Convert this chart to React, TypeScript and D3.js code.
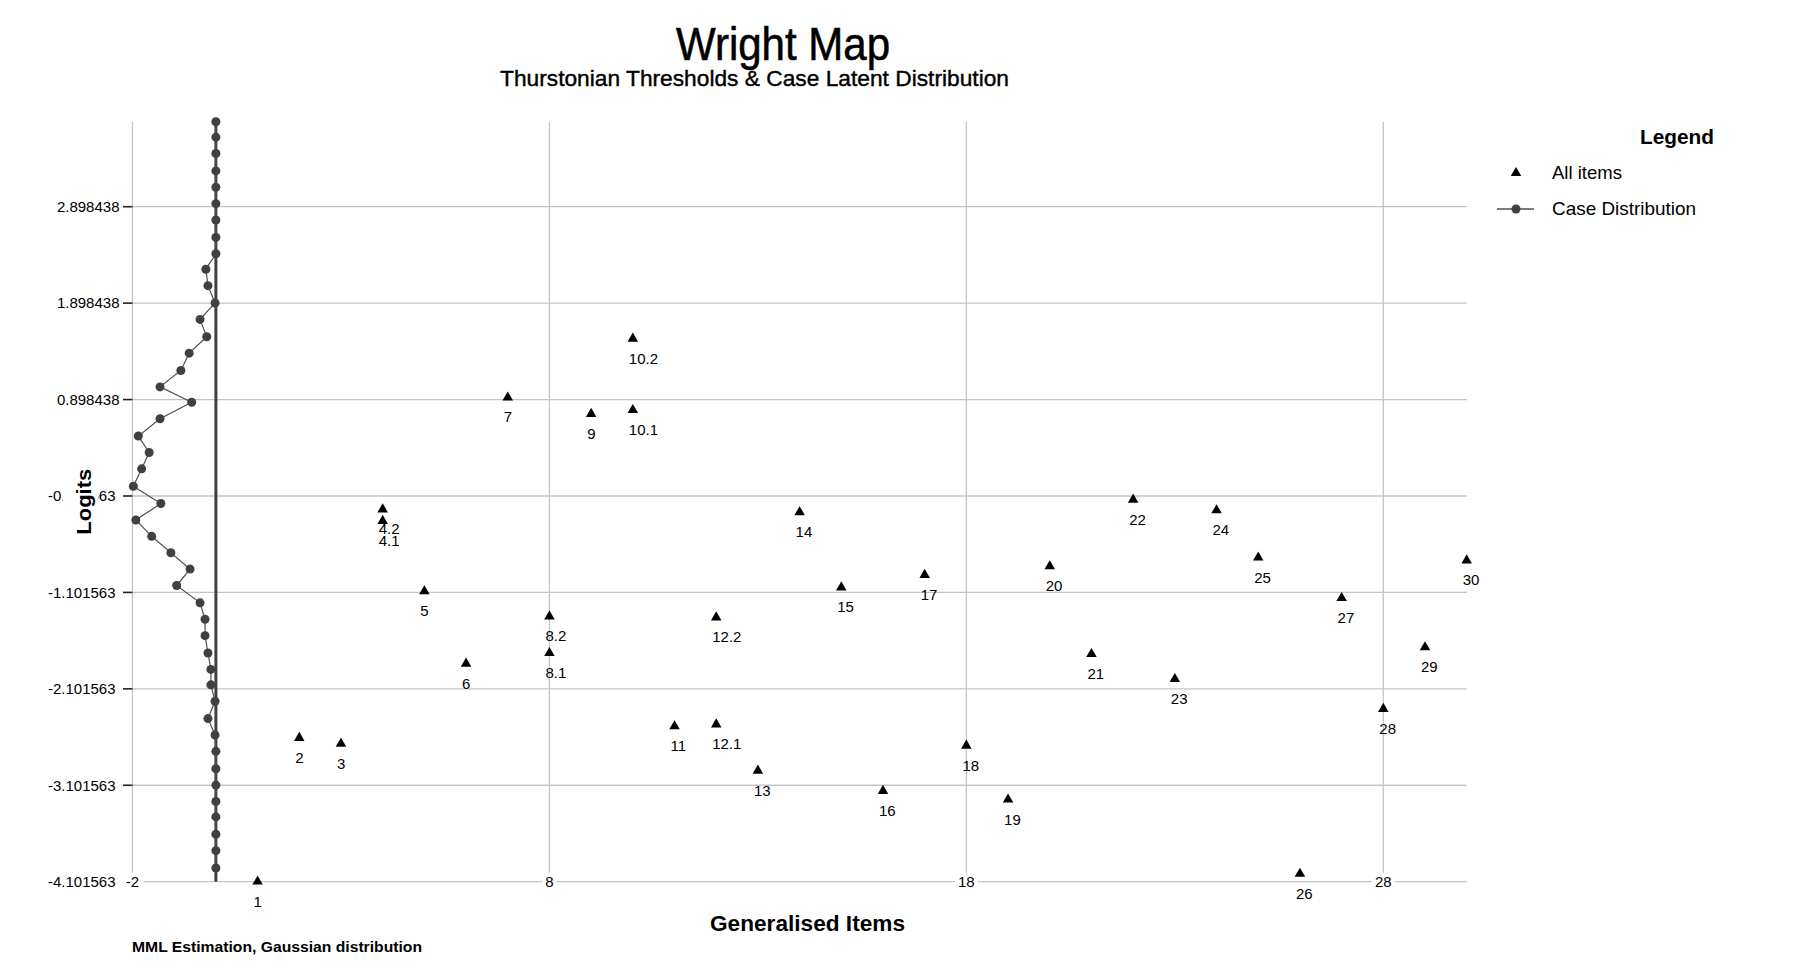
import * as React from 'react';
import { useRef, useEffect } from 'react';
import * as d3 from 'd3';

// thresholds (items): label, position on the generalised item axis, logit
const itemLabels = ['1', '2', '3', '4.1', '4.2', '5', '6', '7', '8.1', '8.2', '9', '10.1', '10.2', '11', '12.1', '12.2', '13', '14', '15', '16', '17', '18', '19', '20', '21', '22', '23', '24', '25', '26', '27', '28', '29', '30'];
const itemPositions = [1, 2, 3, 4, 4, 5, 6, 7, 8, 8, 9, 10, 10, 11, 12, 12, 13, 14, 15, 16, 17, 18, 19, 20, 21, 22, 23, 24, 25, 26, 27, 28, 29, 30];
const itemLogits = [-4.10, -2.61, -2.67, -0.36, -0.24, -1.09, -1.84, 0.92, -1.73, -1.35, 0.75, 0.79, 1.53, -2.49, -2.47, -1.36, -2.95, -0.27, -1.05, -3.16, -0.92, -2.69, -3.25, -0.83, -1.74, -0.14, -2.00, -0.25, -0.74, -4.02, -1.16, -2.31, -1.67, -0.77];

// case latent distribution: logit bins and (negative) scaled frequency
const caseLogits = [3.78, 3.62, 3.45, 3.27, 3.10, 2.93, 2.76, 2.58, 2.41, 2.25, 2.08, 1.90, 1.73, 1.55, 1.38, 1.20, 1.03, 0.87, 0.70, 0.52, 0.35, 0.18, 0.00, -0.18, -0.35, -0.52, -0.69, -0.86, -1.03, -1.21, -1.38, -1.55, -1.73, -1.90, -2.06, -2.23, -2.41, -2.58, -2.75, -2.93, -3.10, -3.27, -3.43, -3.61, -3.78, -3.96];
const caseDensity = [0, 0, 0, 0, 0, 0, 0, 0, 0, -0.24, -0.19, -0.02, -0.38, -0.22, -0.64, -0.84, -1.34, -0.58, -1.34, -1.86, -1.60, -1.78, -1.98, -1.32, -1.92, -1.54, -1.08, -0.62, -0.94, -0.38, -0.26, -0.26, -0.19, -0.12, -0.12, -0.02, -0.19, -0.02, 0, 0, 0, 0, 0, 0, 0, 0];

const yTickValues = [-4.101563, -3.101563, -2.101563, -1.101563, -0.101563, 0.898438, 1.898438, 2.898438];
const yTickLabels = ['-4.101563', '-3.101563', '-2.101563', '-1.101563', '-0.101563', '0.898438', '1.898438', '2.898438'];
const xTickValues = [-2, 8, 18, 28];

const legendLabels = ['All items', 'Case Distribution'];

const FONT = '"Liberation Sans", Arial, sans-serif';
const WIDTH = 1802;
const HEIGHT = 969;
const DOT = '#404040';

const WrightMap: React.FC = () => {
  const svgRef = useRef<SVGSVGElement>(null);

  useEffect(() => {
    if (!svgRef.current) return;
    const svg = d3.select(svgRef.current);
    svg.selectAll('*').remove();

    const left = 132.5, right = 1466.7, top = 121.7, bottom = 881.7;

    const x = d3.scaleLinear().domain([-2, 30]).range([left, right]);
    const y = d3.scaleLinear().domain([-4.101563, 3.78]).range([bottom, top]);

    svg.append('rect').attr('width', WIDTH).attr('height', HEIGHT).attr('fill', '#fff');

    // titles (the original renders them a bit heavy)
    svg.append('text')
      .attr('x', 783).attr('y', 60)
      .attr('text-anchor', 'middle')
      .attr('font-family', FONT).attr('font-size', 47)
      .attr('stroke', '#000').attr('stroke-width', 0.6)
      .attr('textLength', 214).attr('lengthAdjust', 'spacingAndGlyphs')
      .text('Wright Map');
    svg.append('text')
      .attr('x', 754.5).attr('y', 86)
      .attr('text-anchor', 'middle')
      .attr('font-family', FONT).attr('font-size', 22)
      .attr('stroke', '#000').attr('stroke-width', 0.4)
      .attr('textLength', 509).attr('lengthAdjust', 'spacingAndGlyphs')
      .text('Thurstonian Thresholds & Case Latent Distribution');

    const g = svg.append('g');

    // horizontal gridlines
    g.selectAll('.hgrid')
      .data(yTickValues)
      .enter()
      .append('line')
      .attr('x1', left).attr('x2', right)
      .attr('y1', d => y(d)).attr('y2', d => y(d))
      .attr('stroke', '#c4c4c4').attr('stroke-width', 1.3);

    // vertical gridlines (left edge included)
    g.selectAll('.vgrid')
      .data(xTickValues)
      .enter()
      .append('line')
      .attr('x1', d => x(d)).attr('x2', d => x(d))
      .attr('y1', top).attr('y2', bottom)
      .attr('stroke', '#c4c4c4').attr('stroke-width', 1.3);

    // y ticks + labels
    g.selectAll('.ytick')
      .data(yTickValues)
      .enter()
      .append('line')
      .attr('x1', left - 9.5).attr('x2', left)
      .attr('y1', d => y(d)).attr('y2', d => y(d))
      .attr('stroke', '#222').attr('stroke-width', 1.6);

    g.selectAll('.ylabel')
      .data(yTickValues)
      .enter()
      .append('text')
      .attr('x', (d, i) => (yTickLabels[i].startsWith('-') ? 115.5 : 119.5))
      .attr('y', d => y(d))
      .attr('dy', '0.35em')
      .attr('text-anchor', 'end')
      .attr('font-family', FONT).attr('font-size', 15)
      .attr('fill', '#000')
      .text((d, i) => yTickLabels[i]);

    // y axis title, with its white box hiding part of a tick label
    const midY = (top + bottom) / 2;
    g.append('rect')
      .attr('x', 63).attr('y', midY - 36)
      .attr('width', 35).attr('height', 72)
      .attr('fill', '#fff');
    g.append('text')
      .attr('transform', `translate(91,${midY}) rotate(-90)`)
      .attr('text-anchor', 'middle')
      .attr('font-family', FONT).attr('font-size', 21).attr('font-weight', 'bold')
      .attr('textLength', 66).attr('lengthAdjust', 'spacingAndGlyphs')
      .text('Logits');

    // x tick labels sitting on the bottom gridline
    const xl = g.selectAll('.xlabel')
      .data(xTickValues)
      .enter()
      .append('g')
      .attr('transform', d => `translate(${x(d)},${bottom})`);
    xl.append('rect')
      .attr('x', d => -(String(d).length * 4.2 + 3))
      .attr('y', -9)
      .attr('width', d => String(d).length * 8.4 + 6)
      .attr('height', 18)
      .attr('fill', '#fff');
    xl.append('text')
      .attr('text-anchor', 'middle')
      .attr('dy', '0.35em')
      .attr('font-family', FONT).attr('font-size', 15)
      .text(d => String(d));

    // case distribution
    g.append('line')
      .attr('x1', x(0)).attr('x2', x(0))
      .attr('y1', top).attr('y2', bottom)
      .attr('stroke', DOT).attr('stroke-width', 3);

    const line = d3.line<number>()
      .x((d, i) => x(caseDensity[i]))
      .y(d => y(d));
    g.append('path')
      .datum(caseLogits)
      .attr('d', line)
      .attr('fill', 'none')
      .attr('stroke', '#505050').attr('stroke-width', 1.2);

    g.selectAll('.case-dot')
      .data(caseLogits)
      .enter()
      .append('circle')
      .attr('cx', (d, i) => x(caseDensity[i]))
      .attr('cy', d => y(d))
      .attr('r', 4.5)
      .attr('fill', DOT);

    // item thresholds
    const tri = d3.symbol().type(d3.symbolTriangle).size(48);
    g.selectAll('.item')
      .data(itemLogits)
      .enter()
      .append('path')
      .attr('d', tri)
      .attr('transform', (d, i) => `translate(${x(itemPositions[i])},${y(d)})`)
      .attr('fill', '#000');

    g.selectAll('.item-label')
      .data(itemLogits)
      .enter()
      .append('text')
      .attr('x', (d, i) => x(itemPositions[i]) - 4)
      .attr('y', d => y(d) + 25)
      .attr('font-family', FONT).attr('font-size', 15)
      .attr('fill', '#000')
      .text((d, i) => itemLabels[i]);

    // axis title + footnote
    svg.append('text')
      .attr('x', 710).attr('y', 931)
      .attr('font-family', FONT).attr('font-size', 22).attr('font-weight', 'bold')
      .attr('textLength', 195).attr('lengthAdjust', 'spacingAndGlyphs')
      .text('Generalised Items');
    svg.append('text')
      .attr('x', 132).attr('y', 952)
      .attr('font-family', FONT).attr('font-size', 14).attr('font-weight', 'bold')
      .attr('textLength', 290).attr('lengthAdjust', 'spacingAndGlyphs')
      .text('MML Estimation, Gaussian distribution');

    // legend
    const lg = svg.append('g');
    lg.append('text')
      .attr('x', 1640).attr('y', 144)
      .attr('font-family', FONT).attr('font-size', 20).attr('font-weight', 'bold')
      .attr('textLength', 74).attr('lengthAdjust', 'spacingAndGlyphs')
      .text('Legend');
    lg.append('path')
      .attr('d', tri)
      .attr('transform', 'translate(1516,173)')
      .attr('fill', '#000');
    lg.append('line')
      .attr('x1', 1497).attr('x2', 1534)
      .attr('y1', 209).attr('y2', 209)
      .attr('stroke', '#505050').attr('stroke-width', 1.5);
    lg.append('circle')
      .attr('cx', 1516).attr('cy', 209).attr('r', 4.5)
      .attr('fill', DOT);
    lg.selectAll('.legend-label')
      .data(legendLabels)
      .enter()
      .append('text')
      .attr('x', 1552)
      .attr('y', (d, i) => 179 + i * 36)
      .attr('font-family', FONT).attr('font-size', 19)
      .attr('textLength', (d, i) => (i === 0 ? 70 : 144))
      .attr('lengthAdjust', 'spacingAndGlyphs')
      .text(d => d);
  }, []);

  return (
    <svg
      ref={svgRef}
      width={WIDTH}
      height={HEIGHT}
      style={{ position: 'absolute', left: 0, top: 0, display: 'block' }}
    ></svg>
  );
};

const App: React.FC = () => <WrightMap />;

export default App;
